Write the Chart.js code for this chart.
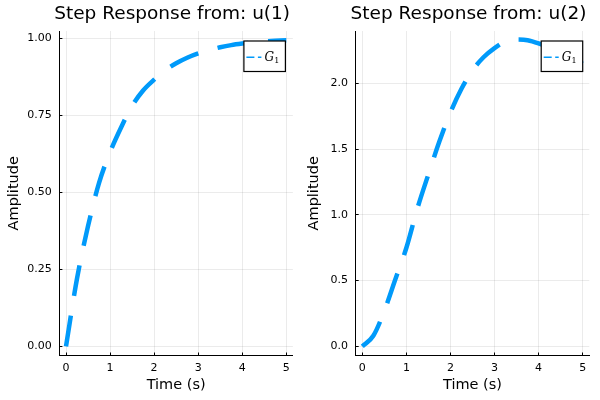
<!DOCTYPE html>
<html>
<head>
<meta charset="utf-8">
<script src="https://cdn.jsdelivr.net/npm/chart.js@4/dist/chart.umd.min.js"></script>
<style>
  html,body{margin:0;padding:0;background:#fff;}
  #wrap{position:relative;width:600px;height:400px;}
  .pane{position:absolute;top:0;width:300px;height:400px;}
</style>
</head>
<body>
<div id="wrap">
  <div class="pane" style="left:0"><canvas id="c1" width="300" height="400"></canvas></div>
  <div class="pane" style="left:300px"><canvas id="c2" width="300" height="400"></canvas></div>
</div>
<script>
// ─── DATA ────────────────────────────────────────────────────────────────────
const timeS=[0,0.25,0.5,0.75,1,1.25,1.5,1.75,2,2.25,2.5,2.75,3,3.25,3.5,3.75,4,4.25,4.5,4.75,5];
const stepU1=[0,0.22,0.39,0.53,0.63,0.71,0.78,0.83,0.865,0.895,0.918,0.936,0.95,0.961,0.97,0.977,0.982,0.986,0.989,0.991,0.993];
const stepU2=[0,0.08,0.27,0.51,0.75,1.05,1.31,1.56,1.78,1.96,2.10,2.20,2.27,2.32,2.335,2.33,2.305,2.27,2.23,2.19,2.15];
const xTicks=[0,1,2,3,4,5];
const xTickLabels=['0','1','2','3','4','5'];
const yTicksU1=[0,0.25,0.5,0.75,1];
const yTickLabelsU1=['0.00','0.25','0.50','0.75','1.00'];
const yTicksU2=[0,0.5,1,1.5,2];
const yTickLabelsU2=['0.0','0.5','1.0','1.5','2.0'];
const titles=['Step Response from: u(1)','Step Response from: u(2)'];
const xTitle='Time (s)', yTitle='Amplitude';
const seriesName=['G','1']; // G with subscript 1

const BLUE='#009AFA';
Chart.defaults.font.family='DejaVu Sans';
Chart.defaults.color='#000';

// title + legend box drawn over the plot area
const decor={
  id:'decor',
  afterDraw(ch,args,o){
    const {ctx,chartArea:a}=ch;
    ctx.save();
    ctx.fillStyle='#000';ctx.font='18.5px "DejaVu Sans"';ctx.textAlign='center';ctx.textBaseline='alphabetic';
    ctx.fillText(o.title,(a.left+a.right)/2-4,18.5);
    // legend
    const w=41.5,h=30.5,bx=a.right-o.legRight-w,by=a.top+10,my=by+h/2;
    ctx.fillStyle='#fff';ctx.fillRect(bx,by,w,h);
    ctx.strokeStyle='#000';ctx.lineWidth=1.2;ctx.strokeRect(bx,by,w,h);
    ctx.strokeStyle=BLUE;ctx.lineWidth=1.6;ctx.setLineDash([8,3.5]);
    ctx.beginPath();ctx.moveTo(bx+2.5,my+1);ctx.lineTo(bx+17.5,my+1);ctx.stroke();
    ctx.setLineDash([]);
    ctx.fillStyle='#000';ctx.textAlign='left';
    ctx.font='italic 12px "DejaVu Serif"';
    ctx.fillText(seriesName[0],bx+20.5,my+4.4);
    const gw=ctx.measureText(seriesName[0]).width;
    ctx.font='8px "DejaVu Serif"';
    ctx.fillText(seriesName[1],bx+20.5+gw+0.3,my+7);
    ctx.restore();
  }
};

function makeChart(id,vals,yMin,yMax,yT,yL,title,axisW,padR,legRight){
  return new Chart(document.getElementById(id),{
    type:'line',
    data:{datasets:[{data:timeS.map((t,i)=>({x:t,y:vals[i]})),borderColor:BLUE,borderWidth:4.5,borderDash:[31,20],
      borderCapStyle:'butt',pointRadius:0,fill:false,cubicInterpolationMode:'monotone'}]},
    options:{
      responsive:false,animation:false,devicePixelRatio:1,
      layout:{padding:{top:31,right:padR,left:0,bottom:0}},
      plugins:{legend:{display:false},tooltip:{enabled:false},decor:{title,legRight}},
      scales:{
        x:{type:'linear',min:-0.15,max:5.15,
          afterBuildTicks:s=>{s.ticks=xTicks.map(v=>({value:v}));},
          afterFit:s=>{s.height=44.5;},
          ticks:{callback:(v,i)=>xTickLabels[i],font:{size:11},padding:9.3,maxRotation:0},
          grid:{color:'rgba(0,0,0,0.08)',tickLength:-3,tickColor:'#000'},
          border:{display:true,color:'#000',width:1},
          title:{display:true,text:xTitle,font:{size:14.5},padding:{top:0,bottom:6.3}}},
        y:{type:'linear',min:yMin,max:yMax,
          afterBuildTicks:s=>{s.ticks=yT.map(v=>({value:v}));},
          afterFit:s=>{s.width=axisW;},
          ticks:{callback:(v,i)=>yL[i],font:{size:11},padding:10.7},
          grid:{color:'rgba(0,0,0,0.08)',tickLength:-3,tickColor:'#000'},
          border:{display:true,color:'#000',width:1},
          title:{display:true,text:yTitle,font:{size:14.5},padding:{top:5.6,bottom:0}}}
      }
    },
    plugins:[decor]
  });
}

makeChart('c1',stepU1,-0.0298,1.0228,yTicksU1,yTickLabelsU1,titles[0],59.4,7.1,7.5);
makeChart('c2',stepU2,-0.07,2.40,yTicksU2,yTickLabelsU2,titles[1],55.7,10.7,6.6);
</script>
</body>
</html>
